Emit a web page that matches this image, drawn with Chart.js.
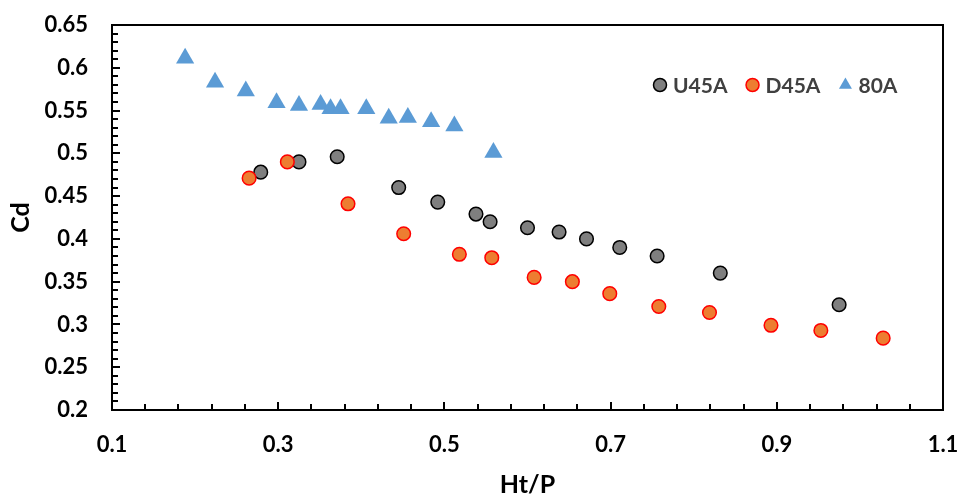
<!DOCTYPE html>
<html>
<head>
<meta charset="utf-8">
<script src="https://cdn.jsdelivr.net/npm/chart.js@4"></script>
<style>
  body { margin: 0; background: #fff; }
</style>
</head>
<body>
<canvas id="cdChart" width="961" height="500"></canvas>
<script>
// series values
const xU45A = [0.279, 0.325, 0.371, 0.445, 0.492, 0.538, 0.555, 0.600, 0.638, 0.671, 0.711, 0.756, 0.832, 0.975];
const yU45A = [0.478, 0.490, 0.496, 0.460, 0.443, 0.429, 0.420, 0.413, 0.408, 0.400, 0.390, 0.380, 0.360, 0.323];

const xD45A = [0.265, 0.311, 0.384, 0.451, 0.518, 0.557, 0.608, 0.654, 0.699, 0.758, 0.819, 0.893, 0.953, 1.028];
const yD45A = [0.471, 0.490, 0.441, 0.406, 0.382, 0.378, 0.355, 0.350, 0.336, 0.321, 0.314, 0.299, 0.293, 0.284];

const x80A = [0.188, 0.224, 0.261, 0.298, 0.325, 0.351, 0.363, 0.375, 0.406, 0.433, 0.456, 0.484, 0.512, 0.559];
const y80A = [0.611, 0.583, 0.573, 0.559, 0.556, 0.557, 0.552, 0.552, 0.552, 0.541, 0.542, 0.537, 0.532, 0.501];

const seriesNames = ['U45A', 'D45A', '80A'];

// axes
const xTicks = [0.1, 0.3, 0.5, 0.7, 0.9, 1.1];
const yTicks = [0.2, 0.25, 0.3, 0.35, 0.4, 0.45, 0.5, 0.55, 0.6, 0.65];
const xMinorStep = 0.04;
const yMinorStep = 0.01;

const toPoints = (xs, ys) => xs.map((v, i) => ({x: v, y: ys[i]}));
const fmt = v => String(Number(v.toFixed(2)));

const FONT = 'Lato, "Open Sans", sans-serif';

// frame on top/right, inside tick marks, legend in the plot
const frame = {
    id: 'frame',
    afterDraw(chart) {
        const {ctx, chartArea: a, scales: {x, y}} = chart;
        ctx.save();
        ctx.strokeStyle = '#000';
        ctx.lineWidth = 2;
        ctx.beginPath();
        ctx.moveTo(a.left, a.top);
        ctx.lineTo(a.right, a.top);
        ctx.lineTo(a.right, a.bottom);
        ctx.stroke();

        ctx.beginPath();
        const xn = Math.round((x.max - x.min) / xMinorStep);
        for (let i = 1; i < xn; i++) {
            const px = Math.round(x.getPixelForValue(x.min + i * xMinorStep));
            const len = i % 5 === 0 ? 8 : 6;
            ctx.moveTo(px, a.bottom);
            ctx.lineTo(px, a.bottom - len);
        }
        const yn = Math.round((y.max - y.min) / yMinorStep);
        for (let i = 1; i < yn; i++) {
            const py = Math.round(y.getPixelForValue(y.min + i * yMinorStep));
            const len = i % 5 === 0 ? 8 : 6;
            ctx.moveTo(a.left, py);
            ctx.lineTo(a.left + len, py);
        }
        ctx.stroke();

        // legend
        ctx.font = 'bold 21px ' + FONT;
        ctx.textBaseline = 'middle';
        let lx = 652;
        const ly = 85;
        chart.data.datasets.forEach(ds => {
            const cx = lx + 8;
            ctx.fillStyle = ds.backgroundColor;
            ctx.strokeStyle = ds.borderColor;
            ctx.lineWidth = ds.borderWidth;
            ctx.beginPath();
            if (ds.pointStyle === 'triangle') {
                const r = 7.5;
                ctx.moveTo(cx, ly - r);
                ctx.lineTo(cx + r * 0.866, ly + r / 2);
                ctx.lineTo(cx - r * 0.866, ly + r / 2);
                ctx.closePath();
                ctx.fill();
            } else {
                ctx.arc(cx, ly, 6.5, 0, Math.PI * 2);
                ctx.fill();
                ctx.stroke();
            }
            ctx.fillStyle = '#404040';
            ctx.fillText(ds.label, lx + 21, ly + 1);
            lx += 21 + ctx.measureText(ds.label).width + 17;
        });
        ctx.restore();
    }
};

new Chart(document.getElementById('cdChart'), {
    type: 'scatter',
    data: {
        datasets: [
            {
                label: seriesNames[0],
                data: toPoints(xU45A, yU45A),
                pointStyle: 'circle',
                pointRadius: 6.8,
                backgroundColor: '#7F7F7F',
                borderColor: '#000000',
                borderWidth: 1.5,
                order: 1
            },
            {
                label: seriesNames[1],
                data: toPoints(xD45A, yD45A),
                pointStyle: 'circle',
                pointRadius: 6.8,
                backgroundColor: '#ED7D31',
                borderColor: '#FF0000',
                borderWidth: 1.5,
                order: 0
            },
            {
                label: seriesNames[2],
                data: toPoints(x80A, y80A),
                pointStyle: 'triangle',
                pointRadius: 10.5,
                backgroundColor: '#5B9BD5',
                borderColor: '#5B9BD5',
                borderWidth: 0,
                order: 2
            }
        ]
    },
    options: {
        responsive: false,
        animation: false,
        layout: { padding: { left: 0, top: 25, right: 18, bottom: 0 } },
        plugins: {
            legend: { display: false },
            tooltip: { enabled: false }
        },
        scales: {
            x: {
                type: 'linear',
                min: 0.1,
                max: 1.1,
                afterBuildTicks: s => { s.ticks = xTicks.map(v => ({value: v})); },
                afterFit: s => { s.height = 90; s.paddingLeft = 0; s.paddingRight = 0; },
                grid: { display: false, drawTicks: false },
                border: { display: true, color: '#000', width: 2 },
                ticks: {
                    padding: 22,
                    color: '#000',
                    font: { family: FONT, size: 22, weight: 'bold' },
                    callback: v => fmt(v)
                },
                title: {
                    display: true,
                    text: 'Ht/P',
                    color: '#000',
                    font: { family: FONT, size: 25, weight: 'bold' },
                    padding: { top: 0, bottom: 0 }
                }
            },
            y: {
                type: 'linear',
                min: 0.2,
                max: 0.65,
                afterBuildTicks: s => { s.ticks = yTicks.map(v => ({value: v})); },
                afterFit: s => { s.width = 112; s.paddingTop = 0; s.paddingBottom = 0; },
                grid: { display: false, drawTicks: false },
                border: { display: true, color: '#000', width: 2 },
                ticks: {
                    padding: 24,
                    color: '#000',
                    font: { family: FONT, size: 22, weight: 'bold' },
                    callback: v => fmt(v)
                },
                title: {
                    display: true,
                    text: 'Cd',
                    color: '#000',
                    font: { family: FONT, size: 25, weight: 'bold' },
                    padding: { top: 6, bottom: 0 }
                }
            }
        }
    },
    plugins: [frame]
});
</script>
</body>
</html>
